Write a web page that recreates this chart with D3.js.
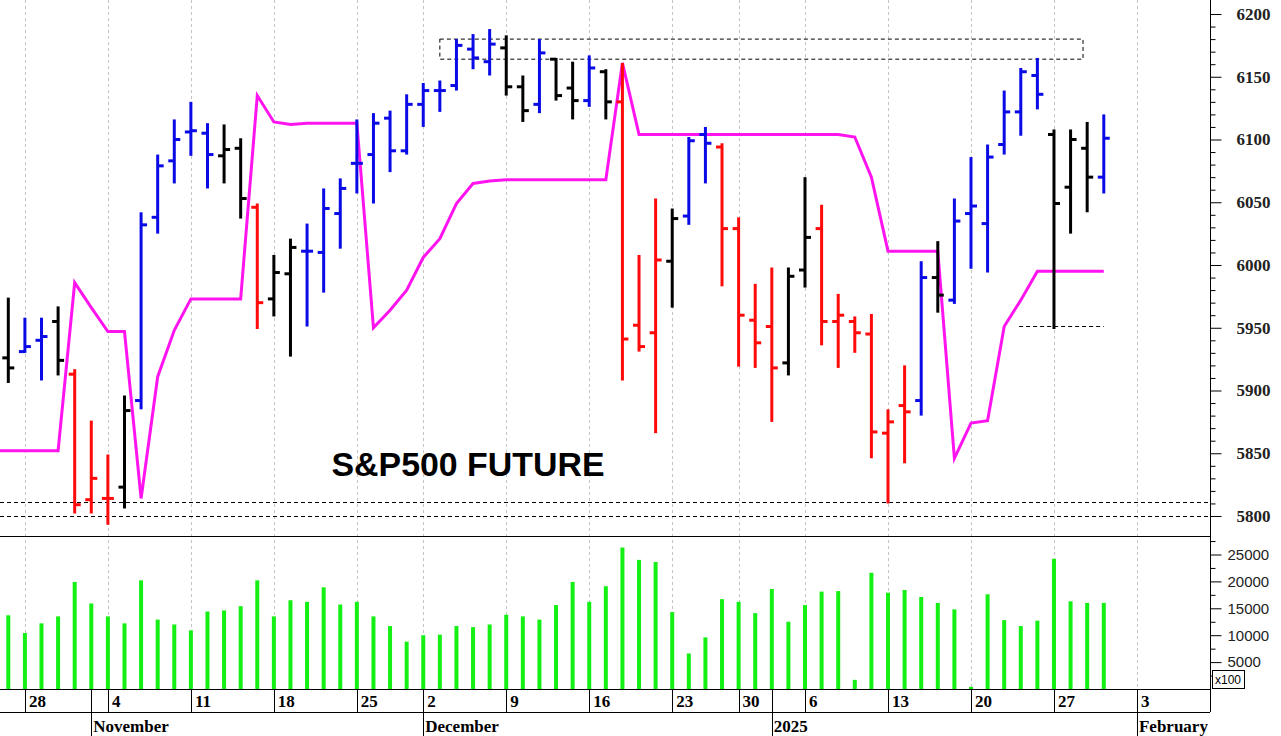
<!DOCTYPE html>
<html>
<head>
<meta charset="utf-8">
<script src="https://cdn.jsdelivr.net/npm/d3@7"></script>
<style>
  body { margin: 0; background: #fff; }
  svg { display: block; }
</style>
</head>
<body>
<div id="chart"></div>
<script>
// trading days shown on the chart
const dates = [
  "2024-10-25", "2024-10-28", "2024-10-29", "2024-10-30", "2024-10-31", "2024-11-01",
  "2024-11-04", "2024-11-05", "2024-11-06", "2024-11-07", "2024-11-08",
  "2024-11-11", "2024-11-12", "2024-11-13", "2024-11-14", "2024-11-15",
  "2024-11-18", "2024-11-19", "2024-11-20", "2024-11-21", "2024-11-22",
  "2024-11-25", "2024-11-26", "2024-11-27", "2024-11-29",
  "2024-12-02", "2024-12-03", "2024-12-04", "2024-12-05", "2024-12-06",
  "2024-12-09", "2024-12-10", "2024-12-11", "2024-12-12", "2024-12-13",
  "2024-12-16", "2024-12-17", "2024-12-18", "2024-12-19", "2024-12-20",
  "2024-12-23", "2024-12-24", "2024-12-26", "2024-12-27",
  "2024-12-30", "2024-12-31", "2025-01-02", "2025-01-03",
  "2025-01-06", "2025-01-07", "2025-01-08", "2025-01-09", "2025-01-10",
  "2025-01-13", "2025-01-14", "2025-01-15", "2025-01-16", "2025-01-17",
  "2025-01-20", "2025-01-21", "2025-01-22", "2025-01-23", "2025-01-24",
  "2025-01-27", "2025-01-28", "2025-01-29", "2025-01-30"
];

const opens = [
  5926, 5931, 5940, 5955, 5913, 5813, 5814, 5823, 5892, 6038, 6083,
  6106, 6105, 6087, 6093, 6046, 5973, 5993, 6011, 6010, 6041,
  6081, 6088, 6117, 6091, 6128, 6139, 6143, 6172, 6162,
  6173, 6142, 6128, 6164, 6141, 6131, 6154, 6130, 5952, 5946,
  6003, 6039, 6104, 6094, 6029, 5956, 5951, 5922,
  5996, 6029, 5955, 5955, 5945, 5866, 5888, 5892, 5990, 5972,
  6041, 6033, 6096, 6122, 6151, 6104, 6062, 6093, 6070
];
const highs = [
  5974, 5958, 5958, 5967, 5917, 5876, 5849, 5896, 6042, 6088, 6116,
  6130, 6113, 6112, 6101, 6049, 6008, 6021, 6033, 6061, 6069,
  6116, 6121, 6123, 6136, 6145, 6147, 6180, 6184, 6188,
  6183, 6151, 6180, 6165, 6162, 6167, 6156, 6161, 6008, 6053,
  6045, 6102, 6110, 6097, 6038, 5985, 5998, 5998,
  6070, 6048, 5977, 5959, 5961, 5885, 5920, 6003, 6019, 6053,
  6086, 6096, 6139, 6157, 6165, 6108, 6108, 6114, 6120
];
const lows = [
  5906, 5930, 5908, 5912, 5802, 5802, 5793, 5806, 5885, 6025, 6065,
  6087, 6061, 6065, 6037, 5949, 5959, 5927, 5951, 5978, 6013,
  6057, 6049, 6074, 6088, 6110, 6122, 6139, 6156, 6151,
  6135, 6114, 6121, 6131, 6116, 6126, 6116, 5908, 5931, 5866,
  5966, 6032, 6065, 5983, 5919, 5918, 5875, 5912,
  5982, 5936, 5918, 5930, 5846, 5810, 5842, 5880, 5962, 5969,
  5997, 5994, 6088, 6103, 6124, 5949, 6025, 6042, 6057
];
const closes = [
  5918, 5935, 5943, 5924, 5809, 5830, 5814, 5884, 6032, 6079, 6100,
  6107, 6088, 6092, 6053, 5970, 5994, 6014, 6011, 6045, 6061,
  6081, 6113, 6091, 6128, 6139, 6139, 6175, 6165, 6176,
  6142, 6123, 6169, 6135, 6131, 6157, 6130, 5941, 5935, 6004,
  6037, 6099, 6097, 6029, 5960, 5938, 5918, 5991,
  6022, 5955, 5960, 5946, 5867, 5875, 5883, 5990, 5976, 6035,
  6047, 6086, 6122, 6154, 6136, 6049, 6100, 6070, 6101
];
// bar colour state: b = blue, k = black, r = red
const states = [
  "k", "b", "b", "k", "r", "r", "r", "k", "b", "b", "b",
  "b", "b", "k", "k", "r", "k", "k", "b", "b", "b",
  "b", "b", "b", "b", "b", "b", "b", "b", "b",
  "k", "k", "b", "k", "k", "b", "k", "r", "r", "r",
  "k", "b", "b", "r", "r", "r", "r", "k",
  "k", "r", "r", "r", "r", "r", "r", "b", "k", "b",
  "b", "b", "b", "b", "b", "k", "k", "k", "b"
];
// magenta stop line
const stopLine = [
  5852, 5852, 5852, 5852, 5986, 5966, 5947, 5947, 5814, 5911, 5948,
  5973, 5973, 5973, 5973, 6135, 6114, 6112, 6113, 6113, 6113,
  6113, 5950, 5964, 5980, 6006, 6021, 6049, 6065, 6067,
  6068, 6068, 6068, 6068, 6068, 6068, 6068, 6161, 6104, 6104,
  6104, 6104, 6104, 6104, 6104, 6104, 6104, 6104,
  6104, 6104, 6104, 6102, 6070, 6011, 6011, 6011, 6011, 5846,
  5874, 5876, 5951, 5972, 5995, 5995, 5995, 5995, 5995
];
// volume (x100)
const volumes = [
  13700, 10400, 12200, 13500, 19900, 15900, 13500, 12200, 20200, 12900, 12000,
  10900, 14400, 14600, 15400, 20200, 13500, 16500, 16200, 18900, 15700,
  16200, 13500, 11700, 8800, 10000, 10100, 11700, 11500, 12000,
  13800, 13500, 12900, 15600, 19900, 16200, 19100, 26300, 24000, 23600,
  14300, 6600, 9600, 16700, 16200, 14100, 18600, 12500,
  15600, 18100, 18200, 1700, 21600, 17900, 18400, 17100, 16000, 14800,
  400, 17600, 12800, 11700, 12700, 24200, 16300, 16000, 16000
];

const priceTicks = [5800, 5850, 5900, 5950, 6000, 6050, 6100, 6150, 6200];
const volumeTicks = [5000, 10000, 15000, 20000, 25000];
// Monday labels: index into dates, label
const dayTicks = [
  [1, "28"], [6, "4"], [11, "11"], [16, "18"], [21, "25"], [25, "2"], [30, "9"],
  [35, "16"], [40, "23"], [44, "30"], [48, "6"], [53, "13"], [58, "20"], [63, "27"], [68, "3"]
];
const monthTicks = [[5, "November"], [25, "December"], [46, "2025"], [68, "February"]];
// support / resistance levels
const supportLevels = [5811, 5800];
const resistanceBox = { x0: 26, x1: 64.75, top: 6180, bottom: 6164 };
const shortLevel = { x0: 60.9, x1: 66, value: 5951 };

const W = 1281, H = 736;
const plotRight = 1210;
const priceBottom = 536;
const volBottom = 689;

const colors = { b: "#0a0ae6", k: "#000000", r: "#ff0a0a" };
const serif = "'Liberation Serif', 'Times New Roman', serif";
const sans = "'Liberation Sans', Arial, sans-serif";

const svg = d3.select("#chart").append("svg").attr("width", W).attr("height", H);

const x = d3.scaleLinear().domain([-0.5, 72.4]).range([0, plotRight]);
const yP = d3.scaleLinear().domain([5800, 6200]).range([516, 14]);
const yV = d3.scaleLinear().domain([0, 25000]).range([volBottom, 554.5]);

// vertical grid lines on Mondays
svg.append("g").selectAll("line").data(dayTicks).join("line")
  .attr("x1", d => Math.round(x(d[0])) + 0.5).attr("x2", d => Math.round(x(d[0])) + 0.5)
  .attr("y1", 0).attr("y2", volBottom)
  .attr("stroke", "#c4c4c4").attr("stroke-dasharray", "3,3").attr("stroke-width", 1);

// dashed levels
svg.append("g").selectAll("line").data(supportLevels).join("line")
  .attr("x1", 0).attr("x2", plotRight)
  .attr("y1", d => Math.round(yP(d)) + 0.5).attr("y2", d => Math.round(yP(d)) + 0.5)
  .attr("stroke", "#000").attr("stroke-dasharray", "4,3");

svg.append("rect")
  .attr("x", x(resistanceBox.x0)).attr("y", yP(resistanceBox.top))
  .attr("width", x(resistanceBox.x1) - x(resistanceBox.x0))
  .attr("height", yP(resistanceBox.bottom) - yP(resistanceBox.top))
  .attr("fill", "none").attr("stroke", "#000").attr("stroke-dasharray", "4,3");

svg.append("line")
  .attr("x1", x(shortLevel.x0)).attr("x2", x(shortLevel.x1))
  .attr("y1", yP(shortLevel.value)).attr("y2", yP(shortLevel.value))
  .attr("stroke", "#000").attr("stroke-dasharray", "4,3");

// magenta line
const lineData = stopLine.map((v, i) => [i, v]);
lineData.unshift([-0.5, stopLine[0]]);
svg.append("path")
  .datum(lineData)
  .attr("fill", "none").attr("stroke", "#ff14f0").attr("stroke-width", 3)
  .attr("d", d3.line().x(d => x(d[0])).y(d => yP(d[1])));

// OHLC bars
const bars = svg.append("g").selectAll("g").data(dates.map((d, i) => i)).join("g")
  .attr("stroke", i => colors[states[i]]).attr("stroke-width", 3);
bars.append("line")
  .attr("x1", i => x(i)).attr("x2", i => x(i))
  .attr("y1", i => yP(highs[i])).attr("y2", i => yP(lows[i]));
bars.append("line")
  .attr("x1", i => x(i) - 6).attr("x2", i => x(i))
  .attr("y1", i => yP(opens[i])).attr("y2", i => yP(opens[i]));
bars.append("line")
  .attr("x1", i => x(i)).attr("x2", i => x(i) + 6)
  .attr("y1", i => yP(closes[i])).attr("y2", i => yP(closes[i]));

// title
svg.append("text")
  .attr("x", 468).attr("y", 476)
  .attr("text-anchor", "middle")
  .style("font-family", sans)
  .attr("font-weight", "bold").attr("font-size", 34)
  .attr("textLength", 273).attr("lengthAdjust", "spacingAndGlyphs")
  .text("S&P500 FUTURE");

// volume bars
svg.append("g").selectAll("rect").data(volumes).join("rect")
  .attr("x", (d, i) => x(i) - 2).attr("width", 4)
  .attr("y", d => yV(d)).attr("height", d => volBottom - yV(d))
  .attr("fill", "#14f014");

// panel frame
svg.append("line").attr("x1", 0).attr("x2", plotRight).attr("y1", priceBottom + 0.5).attr("y2", priceBottom + 0.5).attr("stroke", "#000");
svg.append("line").attr("x1", plotRight + 0.5).attr("x2", plotRight + 0.5).attr("y1", 0).attr("y2", 712).attr("stroke", "#000");

// right axes
const priceAxis = d3.axisRight(yP).tickValues(d3.range(5800, 6201, 10))
  .tickSize(5).tickFormat(d => priceTicks.includes(d) ? d : "");
const pa = svg.append("g").attr("transform", `translate(${plotRight + 0.5},0)`).call(priceAxis);
pa.select(".domain").remove();
pa.selectAll(".tick line").attr("x2", d => priceTicks.includes(d) ? 11 : 5).attr("stroke", "#000");
pa.selectAll("text").attr("x", 26)
  .style("font-family", serif).style("font-weight", "bold").style("font-size", "17px").attr("fill", "#222");

const volAxis = d3.axisRight(yV).tickValues(d3.range(2500, 27501, 2500))
  .tickSize(5).tickFormat(d => volumeTicks.includes(d) ? d : "");
const va = svg.append("g").attr("transform", `translate(${plotRight + 0.5},0)`).call(volAxis);
va.select(".domain").remove();
va.selectAll(".tick line").attr("x2", d => volumeTicks.includes(d) ? 11 : 5).attr("stroke", "#000");
va.selectAll("text").attr("x", 17)
  .style("font-family", sans).style("font-size", "15px").attr("fill", "#222");

// x100 box
svg.append("rect").attr("x", plotRight + 2.5).attr("y", 670.5).attr("width", 32).attr("height", 18)
  .attr("fill", "#fff").attr("stroke", "#000");
svg.append("text").attr("x", plotRight + 5).attr("y", 684)
  .style("font-family", sans).attr("font-size", 12).text("x100");

// date axis
const axisG = svg.append("g");
axisG.append("line").attr("x1", 0).attr("x2", plotRight).attr("y1", volBottom + 0.5).attr("y2", volBottom + 0.5).attr("stroke", "#000");
axisG.append("line").attr("x1", 0).attr("x2", plotRight).attr("y1", 712.5).attr("y2", 712.5).attr("stroke", "#000");
axisG.selectAll(".dtick").data(dayTicks).join("line")
  .attr("x1", d => Math.round(x(d[0])) + 0.5).attr("x2", d => Math.round(x(d[0])) + 0.5)
  .attr("y1", volBottom).attr("y2", 712).attr("stroke", "#000");
axisG.selectAll(".dlabel").data(dayTicks).join("text")
  .attr("x", d => x(d[0]) + 4).attr("y", 707)
  .style("font-family", serif)
  .attr("font-weight", "bold").attr("font-size", 17)
  .text(d => d[1]);
axisG.selectAll(".mtick").data(monthTicks).join("line")
  .attr("x1", d => Math.round(x(d[0])) + 0.5).attr("x2", d => Math.round(x(d[0])) + 0.5)
  .attr("y1", volBottom).attr("y2", H).attr("stroke", "#000");
axisG.selectAll(".mlabel").data(monthTicks).join("text")
  .attr("x", d => x(d[0]) + 2).attr("y", 732)
  .style("font-family", serif)
  .attr("font-weight", "bold").attr("font-size", 17)
  .text(d => d[1]);
</script>
</body>
</html>
